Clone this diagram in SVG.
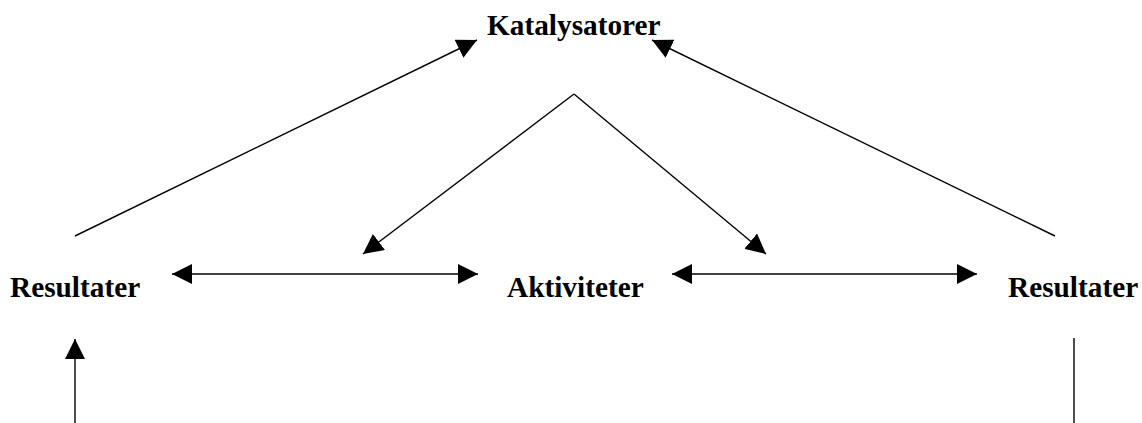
<svg xmlns="http://www.w3.org/2000/svg" width="1142" height="423" viewBox="0 0 1142 423">
<style>
text{font-family:"Liberation Serif","Times New Roman",serif;font-weight:bold;font-size:29.3px;fill:#000}
.c line{stroke:#000;stroke-width:1.4;fill:none}
</style>
<defs>
<marker id="ah" markerUnits="userSpaceOnUse" markerWidth="20" markerHeight="20" refX="20" refY="10" orient="auto-start-reverse" viewBox="0 0 20 20">
<path d="M0,0 L20,10 L0,20 z" fill="#000"/>
</marker>
</defs>
<rect width="1142" height="423" fill="#fff"/>
<g id="n-katalysatorer"><text x="487" y="35">Katalysatorer</text></g>
<g id="n-resultater-left"><text x="10" y="297">Resultater</text></g>
<g id="n-aktiviteter"><text x="507" y="297">Aktiviteter</text></g>
<g id="n-resultater-right"><text x="1008" y="297">Resultater</text></g>
<g class="c" id="connectors">
<line x1="75" y1="236" x2="477" y2="40" marker-end="url(#ah)"/>
<line x1="1055" y1="236" x2="652" y2="40" marker-end="url(#ah)"/>
<line x1="574" y1="94" x2="363" y2="254" marker-end="url(#ah)"/>
<line x1="574" y1="94" x2="766" y2="254" marker-end="url(#ah)"/>
<line x1="172" y1="274" x2="478" y2="274" marker-start="url(#ah)" marker-end="url(#ah)"/>
<line x1="672" y1="274" x2="977" y2="274" marker-start="url(#ah)" marker-end="url(#ah)"/>
<line x1="75" y1="423" x2="75" y2="339" marker-end="url(#ah)"/>
<line x1="1074" y1="338" x2="1074" y2="423"/>
</g>
</svg>
